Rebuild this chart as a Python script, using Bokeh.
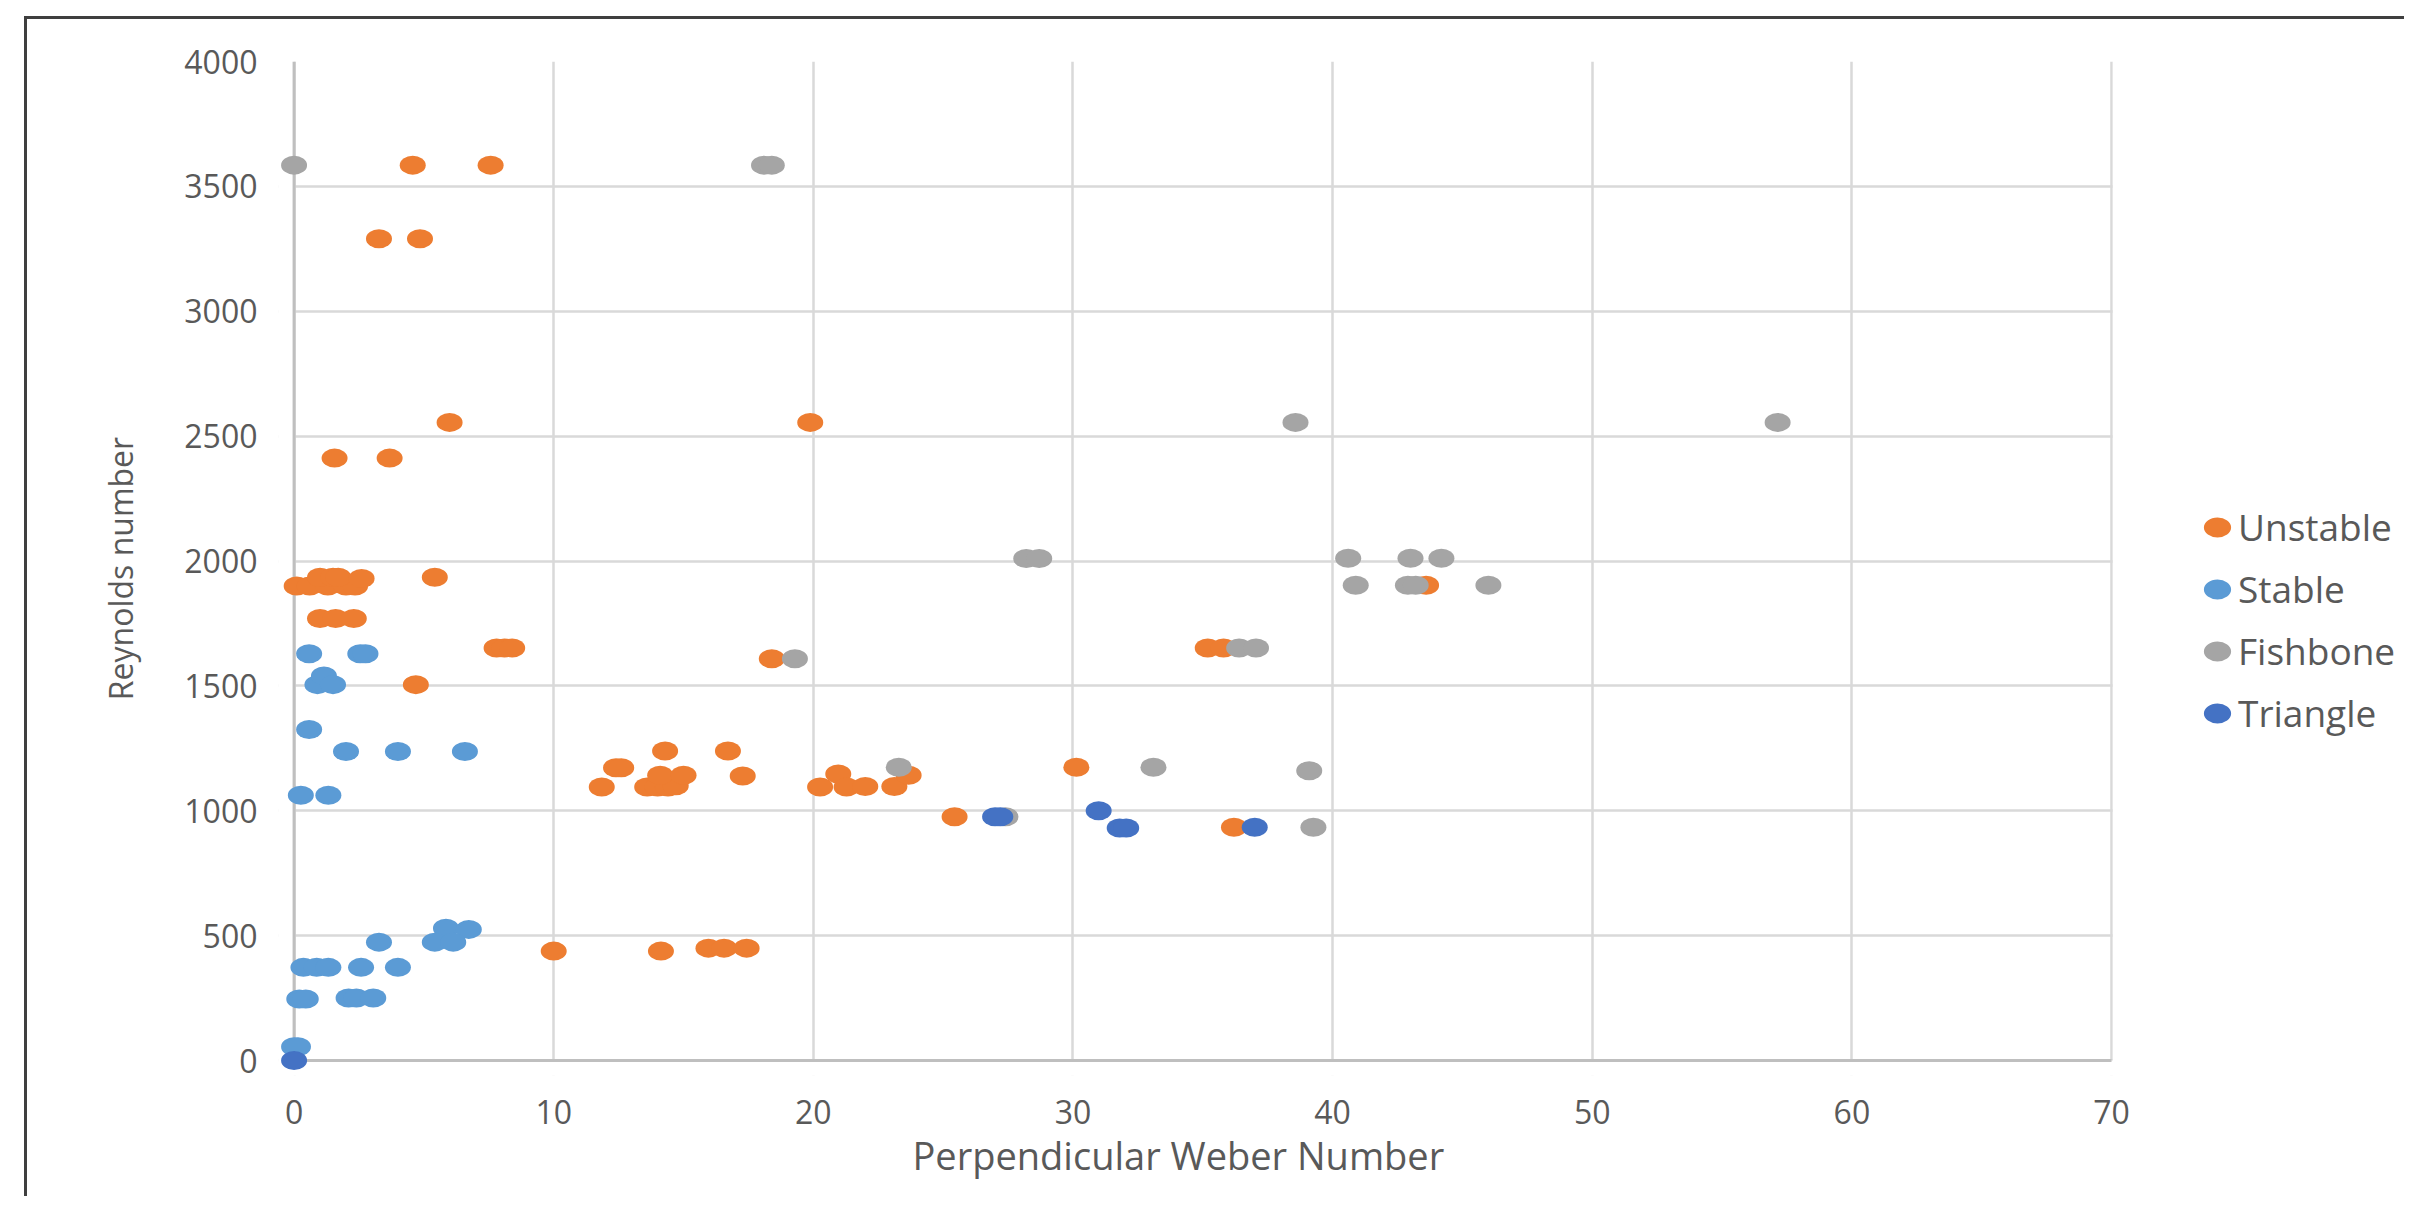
from bokeh.plotting import figure
from bokeh.models import Legend, LegendItem, Range1d, FixedTicker, Title
from bokeh.embed import file_html
from bokeh.resources import INLINE

# ---- axis definition ----
x_min, x_max, x_step = 0, 70, 10
y_min, y_max, y_step = 0, 4000, 500
x_ticks = list(range(x_min, x_max + 1, x_step))
y_ticks = list(range(y_min, y_max + 1, y_step))

# ---- data ----
unstable_x = [4.57, 7.57, 3.27, 4.85, 5.99, 19.88, 1.56, 3.68,
              0.1, 0.6, 1.3, 2.0, 2.35, 1.0, 1.5, 1.7, 2.6, 5.42,
              1.0, 1.6, 2.3, 7.8, 8.1, 8.4, 4.69, 18.4,
              11.85, 12.4, 12.6, 14.29, 13.6, 14.0, 14.4, 14.7, 14.1, 15.0, 16.71, 17.28,
              20.26, 20.96, 21.28, 22.0, 23.12, 23.67, 25.44, 30.13,
              35.19, 35.8, 43.6, 36.2,
              10.0, 14.13, 15.96, 16.56, 17.43]
unstable_y = [3585, 3585, 3290, 3290, 2555, 2555, 2412, 2412,
              1900, 1900, 1900, 1900, 1900, 1935, 1935, 1935, 1930, 1935,
              1770, 1770, 1770, 1652, 1652, 1652, 1505, 1609,
              1095, 1172, 1172, 1239, 1095, 1095, 1095, 1100, 1142, 1142, 1239, 1139,
              1095, 1147, 1095, 1097, 1097, 1142, 976, 1174,
              1652, 1652, 1903, 934,
              438, 438, 450, 450, 450]

stable_x = [0.58, 2.55, 2.75, 0.9, 1.15, 1.5, 0.58, 2.0, 4.0, 6.58, 0.26, 1.32,
            5.85, 6.73, 5.42, 6.13, 3.27,
            0.36, 0.87, 1.32, 2.58, 4.0,
            0.2, 0.45, 2.1, 2.4, 3.05,
            0.0, 0.15]
stable_y = [1629, 1629, 1629, 1505, 1540, 1505, 1325, 1237, 1237, 1237, 1062, 1062,
            530, 525, 474, 474, 474,
            373, 373, 373, 373, 373,
            246, 246, 250, 250, 250,
            55, 55]

fishbone_x = [0.0, 18.1, 18.4, 38.57, 57.14, 28.2, 28.7,
              40.6, 43.0, 44.19, 40.89, 42.9, 43.2, 46.0,
              36.4, 37.05, 19.29, 23.29, 33.1, 39.1, 39.26, 27.4]
fishbone_y = [3585, 3585, 3585, 2555, 2555, 2010, 2010,
              2011, 2011, 2011, 1903, 1903, 1903, 1903,
              1652, 1652, 1609, 1174, 1174, 1160, 934, 976]

triangle_x = [0.0, 27.0, 27.2, 30.99, 31.8, 32.05, 37.0]
triangle_y = [0, 976, 976, 1000, 931, 931, 934]

series = [
    ("Unstable", unstable_x, unstable_y, "#ED7D31"),
    ("Stable", stable_x, stable_y, "#5B9BD5"),
    ("Fishbone", fishbone_x, fishbone_y, "#A5A5A5"),
    ("Triangle", triangle_x, triangle_y, "#4472C4"),
]

# ---- styling ----
PAD_X, PAD_Y = 0.6, 60       # small padding so markers at 0 are not clipped
X_END = 81.4                 # frame continues to the right to hold the legend
FONT = "Open Sans"
TXT = "#595959"
GRID = "#D9D9D9"
AXIS = "#BFBFBF"

p = figure(width=2380, height=1180, output_backend="svg", toolbar_location=None,
           x_range=Range1d(x_min - PAD_X, X_END), y_range=Range1d(y_min - PAD_Y, y_max),
           min_border_left=251, min_border_right=0, min_border_top=42, min_border_bottom=124)
p.styles = {"margin-left": "24px", "margin-top": "16px",
            "border-left": "3px solid #3F3F3F", "border-top": "3px solid #3F3F3F"}
p.outline_line_color = None
p.background_fill_color = "white"
p.border_fill_color = "white"

p.xaxis.ticker = FixedTicker(ticks=x_ticks)
p.yaxis.ticker = FixedTicker(ticks=y_ticks)
p.xgrid.ticker = FixedTicker(ticks=x_ticks)
p.ygrid.ticker = FixedTicker(ticks=y_ticks)
for g in (p.xgrid, p.ygrid):
    g.grid_line_color = GRID
    g.grid_line_width = 2.5

for ax in (p.xaxis, p.yaxis):
    ax.axis_line_color = None
    ax.major_tick_line_color = None
    ax.minor_tick_line_color = None
    ax.major_label_text_font = FONT
    ax.major_label_text_font_size = "32px"
    ax.major_label_text_color = TXT
    ax.axis_label_text_font = FONT
    ax.axis_label_text_font_style = "normal"
    ax.axis_label_text_color = TXT

p.yaxis.axis_label = "Reynolds number"
p.yaxis.axis_label_text_font_size = "32px"
p.xaxis.major_label_standoff = 18
p.yaxis.major_label_standoff = 15
p.yaxis.axis_label_standoff = 39

# x-axis title, centred under the 0..70 plot area (not the extended frame)
p.add_layout(Title(text="Perpendicular Weber Number", align="left", offset=634,
                   standoff=0, text_font=FONT, text_font_size="38px",
                   text_font_style="normal", text_color=TXT), "below")

# white masks outside the 0..max plot area (covers grid overhang)
p.quad(left=[x_min - 2 * PAD_X], right=[x_min], bottom=[y_min - 2 * PAD_Y], top=[y_max + PAD_Y],
       fill_color="white", line_color=None)
p.quad(left=[x_min - 2 * PAD_X], right=[X_END + 1], bottom=[y_min - 2 * PAD_Y], top=[y_min],
       fill_color="white", line_color=None)
p.quad(left=[x_max + 0.05], right=[X_END + 1], bottom=[y_min - 2 * PAD_Y], top=[y_max + PAD_Y],
       fill_color="white", line_color=None)
# axis lines at x=0 and y=0
p.segment(x0=[x_min, x_min], y0=[y_min, y_min], x1=[x_min, x_max], y1=[y_max, y_min],
          line_color=AXIS, line_width=3)

items = []
for name, xs, ys, col in series:
    r = p.ellipse(x=xs, y=ys, width=26, height=19, width_units="screen", height_units="screen",
                  fill_color=col, line_color=None)
    items.append(LegendItem(label=name, renderers=[r]))

legend = Legend(items=items, location=(1922, 337), orientation="vertical",
                glyph_width=34, glyph_height=34, label_standoff=4, spacing=11,
                padding=0, margin=0, border_line_color=None, background_fill_alpha=0,
                label_text_font=FONT, label_text_font_size="37px", label_text_color=TXT)
p.add_layout(legend)

open("out.html", "w").write(file_html(p, INLINE))
